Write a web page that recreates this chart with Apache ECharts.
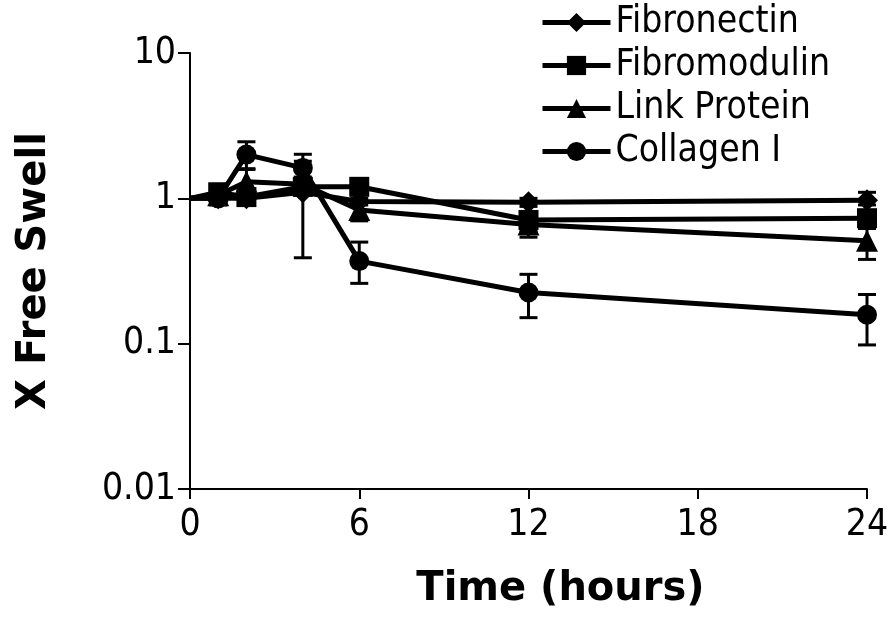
<!DOCTYPE html>
<html>
<head>
<meta charset="utf-8">
<script src="https://cdn.jsdelivr.net/npm/echarts@6/dist/echarts.min.js"></script>
<style>
  html, body { margin: 0; padding: 0; background: #fff; }
  #chart { width: 894px; height: 636px; }
</style>
</head>
<body>
<div id="chart"></div>
<script>
var times = [0, 1, 2, 4, 6, 12, 24];
var xTicks = [0, 6, 12, 18, 24];
var yTicks = [0.01, 0.1, 1, 10];

var fibronectin = [1, 1.0, 1.0, 1.1, 0.95, 0.94, 0.97];
var fibronectinLow = [null, 0.93, 0.95, 0.39, 0.9, 0.88, 0.9];
var fibronectinHigh = [null, 1.07, 1.05, 1.8, 1.0, 1.0, 1.1];

var fibromodulin = [1, 1.1, 1.02, 1.2, 1.2, 0.71, 0.73];
var fibromodulinLow = [null, 0.9, 0.92, 1.05, 1.1, 0.6, 0.66];
var fibromodulinHigh = [null, 1.25, 1.12, 1.35, 1.35, 0.8, 0.8];

var linkProtein = [1, 1.05, 1.3, 1.25, 0.83, 0.66, 0.51];
var linkLow = [null, 0.95, 1.02, 1.1, 0.7, 0.54, 0.38];
var linkHigh = [null, 1.15, 1.58, 1.4, 0.95, 0.78, 0.62];

var collagen = [1, 1.0, 2.0, 1.62, 0.37, 0.225, 0.158];
var collagenLow = [null, 0.95, 1.6, 1.23, 0.26, 0.151, 0.098];
var collagenHigh = [null, 1.05, 2.45, 2.01, 0.50, 0.30, 0.218];

var font = '"DejaVu Sans Condensed", "DejaVu Sans", Verdana, sans-serif';
var boldFont = '"DejaVu Sans", Verdana, sans-serif';

function pairs(vals) {
    return times.map(function (t, i) { return [t, vals[i]]; });
}
function bars(lo, hi) {
    var out = [];
    times.forEach(function (t, i) {
        if (lo[i] != null) out.push([t, lo[i], hi[i]]);
    });
    return out;
}

function errorBar(params, api) {
    var x = api.value(0);
    var top = api.coord([x, api.value(2)]);
    var bot = api.coord([x, api.value(1)]);
    var w = 9;
    var st = { stroke: '#000', lineWidth: 3 };
    return {
        type: 'group',
        children: [
            { type: 'line', shape: { x1: top[0], y1: top[1], x2: bot[0], y2: bot[1] }, style: st },
            { type: 'line', shape: { x1: top[0] - w, y1: top[1], x2: top[0] + w, y2: top[1] }, style: st },
            { type: 'line', shape: { x1: bot[0] - w, y1: bot[1], x2: bot[0] + w, y2: bot[1] }, style: st }
        ]
    };
}

function lineSeries(name, vals, symbol, size) {
    return {
        name: name,
        type: 'line',
        data: pairs(vals),
        symbol: symbol,
        symbolSize: function (v, p) { return p && p.dataIndex === 0 ? 0 : size; },
        showAllSymbol: true,
        lineStyle: { color: '#000', width: 5 },
        itemStyle: { color: '#000' },
        animation: false,
        z: 3
    };
}

function barSeries(lo, hi) {
    return {
        type: 'custom',
        renderItem: errorBar,
        data: bars(lo, hi),
        encode: { x: 0, y: [1, 2] },
        animation: false,
        z: 2
    };
}

var chart = echarts.init(document.getElementById('chart'));
chart.setOption({
    backgroundColor: '#fff',
    legend: {
        orient: 'vertical',
        left: 540,
        top: 4,
        padding: 0,
        itemWidth: 68,
        itemHeight: 24,
        itemGap: 6,
        lineStyle: { width: 5 },
        textStyle: { fontFamily: font, fontSize: 37, color: '#000', lineHeight: 30 },
        data: ['Fibronectin', 'Fibromodulin', 'Link Protein', 'Collagen I']
    },
    grid: { left: 190, right: 27, top: 53, bottom: 147 },
    xAxis: {
        type: 'value',
        min: 0,
        max: 24,
        interval: 6,
        name: 'Time (hours)',
        nameLocation: 'middle',
        nameGap: 81,
        nameTextStyle: { fontFamily: boldFont, fontSize: 40, fontWeight: 'bold', color: '#000', padding: [0, 0, 0, 64] },
        axisLine: { lineStyle: { color: '#000', width: 2 } },
        axisTick: { length: 10, lineStyle: { color: '#000', width: 2 } },
        axisLabel: { fontFamily: font, fontSize: 37, color: '#000', margin: 18 },
        splitLine: { show: false }
    },
    yAxis: {
        type: 'log',
        logBase: 10,
        min: yTicks[0],
        max: yTicks[yTicks.length - 1],
        name: 'X Free Swell',
        nameLocation: 'middle',
        nameGap: 135,
        nameRotate: 90,
        nameTextStyle: { fontFamily: boldFont, fontSize: 40, fontWeight: 'bold', color: '#000' },
        axisLine: { show: true, lineStyle: { color: '#000', width: 2 } },
        axisTick: { show: true, length: 12, lineStyle: { color: '#000', width: 2 } },
        axisLabel: {
            fontFamily: font, fontSize: 37, color: '#000', margin: 14,
            formatter: function (v) { return String(+v.toPrecision(3)); }
        },
        splitLine: { show: false }
    },
    series: [
        barSeries(fibronectinLow, fibronectinHigh),
        barSeries(fibromodulinLow, fibromodulinHigh),
        barSeries(linkLow, linkHigh),
        barSeries(collagenLow, collagenHigh),
        lineSeries('Fibronectin', fibronectin, 'diamond', 22),
        lineSeries('Fibromodulin', fibromodulin, 'rect', 20),
        lineSeries('Link Protein', linkProtein, 'triangle', 22),
        lineSeries('Collagen I', collagen, 'circle', 20)
    ]
});
</script>
</body>
</html>
